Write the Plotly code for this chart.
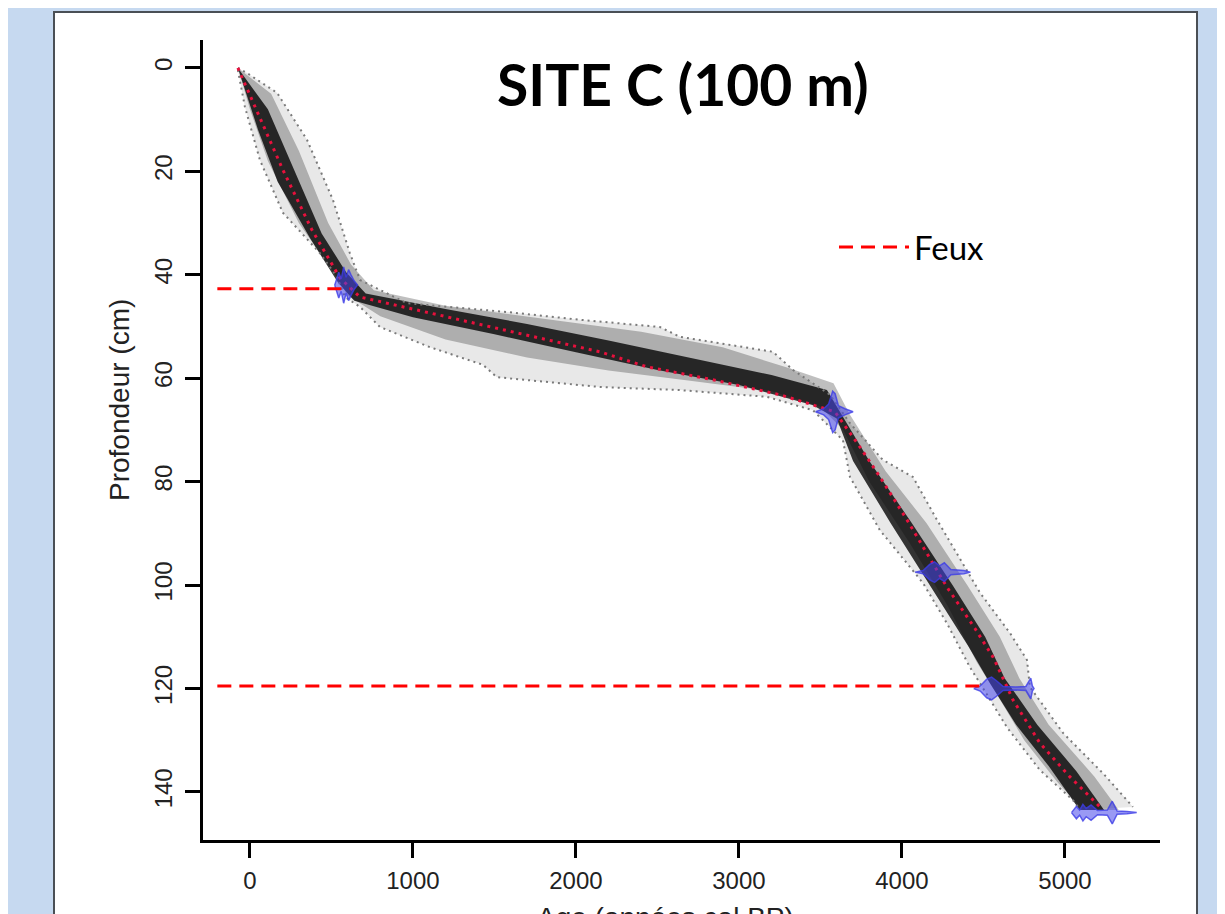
import plotly.graph_objects as go

# ---------------- data (age cal BP, depth cm) ----------------
median_age   = [-74, 104, 202, 380, 552, 675, 1166, 1577, 2147, 2436, 2840, 3252, 3497, 3589, 3638, 3742, 3865, 4031, 4276, 4450, 4560, 4681, 4847, 5031, 5215]
median_depth = [0, 12.6, 19.7, 31.3, 40.6, 44.3, 47.8, 50.7, 54.9, 57.8, 60.3, 63.2, 65.6, 66.5, 68.7, 73.3, 79.1, 87.4, 100.4, 108.5, 114, 122.2, 130.6, 137.1, 142.9]

young95_age   = [-74, -31, 61, 202, 429, 534, 583, 675, 798, 1104, 1429, 1515, 2147, 2638, 3172, 3454, 3638, 3681, 3865, 4129, 4276, 4417, 4479, 4644, 4847, 5049, 5092]
young95_depth = [0.4, 7.5, 17.8, 28, 35.8, 40.4, 44.3, 46.2, 50.1, 54, 57.4, 59.8, 61.7, 62.3, 63.6, 66.2, 72, 79.1, 89.4, 99.6, 107.4, 115.9, 119, 127.5, 135.8, 141.6, 143.5]

old95_age   = [-74, -18, 166, 350, 509, 613, 675, 963, 1577, 2025, 2515, 2638, 3209, 3331, 3558, 3681, 3883, 4067, 4215, 4479, 4663, 4767, 4785, 4988, 5233, 5399, 5417]
old95_depth = [0, 1, 4.8, 13.9, 25.5, 35.8, 41, 45.5, 47.2, 48.7, 50.1, 52, 54.9, 58.4, 63.2, 68.7, 75.8, 79.1, 87.4, 101.5, 109.3, 114.5, 119.7, 128.6, 136.4, 142.2, 142.9]

mid_young_age   = [-74, 0, 110, 300, 500, 600, 800, 1200, 1700, 2200, 2700, 3200, 3500, 3640, 3800, 4050, 4280, 4460, 4580, 4750, 4950, 5110]
mid_young_depth = [0, 8, 18, 30, 39, 44, 48, 52.5, 56, 58.5, 60.5, 62.5, 65.5, 70, 80, 92, 104, 115, 121, 130, 138, 143.5]
mid_old_age   = [-74, 130, 300, 480, 620, 760, 1200, 1800, 2400, 2900, 3300, 3580, 3680, 3900, 4150, 4400, 4600, 4720, 4900, 5180, 5330]
mid_old_depth = [0, 5, 16, 30, 38, 43, 46, 48.5, 51, 54, 58, 61, 67, 78, 88, 100, 110, 118, 127, 137, 143.5]

core_young_age   = [-74, 50, 170, 370, 540, 640, 1000, 1500, 2000, 2500, 3000, 3450, 3600, 3700, 3930, 4170, 4410, 4540, 4700, 4900, 5090]
core_young_depth = [0, 12, 22, 33, 41.5, 45, 48.2, 51.5, 55, 58.4, 61.3, 65.2, 67.8, 76, 88, 100, 112, 119, 127, 135, 143.5]
core_old_age   = [-74, 110, 250, 440, 590, 710, 1200, 1700, 2200, 2700, 3200, 3540, 3610, 3800, 4060, 4310, 4510, 4630, 4830, 5070, 5240]
core_old_depth = [0, 8, 18, 32, 39.5, 43.6, 46.6, 49.5, 52.7, 56, 59.4, 62.3, 66, 76, 88, 100, 110, 118, 127, 136, 143.5]

# calibrated dates: depth, ages, probability half-heights
date_depths  = [42.0, 66.5, 97.5, 120.0, 144.0]
date_ages    = [
    [520, 545, 560, 575, 590, 605, 620, 640, 660],
    [3470, 3520, 3550, 3575, 3590, 3610, 3650, 3700],
    [4080, 4130, 4170, 4200, 4230, 4260, 4300, 4380, 4420],
    [4440, 4480, 4520, 4550, 4580, 4620, 4700, 4760, 4790, 4800, 4810],
    [5040, 5070, 5090, 5110, 5130, 5160, 5200, 5260, 5290, 5320, 5380, 5440],
]
date_heights = [
    [0, 2.5, 1.2, 3.5, 1.5, 3.0, 2.0, 0.8, 0],
    [0, 0.6, 1.5, 4.0, 3.5, 1.2, 0.6, 0],
    [0, 0.3, 1.5, 2.0, 1.2, 1.8, 0.5, 0.3, 0],
    [0, 0.5, 1.8, 2.2, 1.5, 0.4, 0.3, 0.4, 2.0, 0.5, 0],
    [0, 1.2, 0.5, 1.6, 0.8, 1.5, 0.4, 0.5, 2.2, 0.3, 0.2, 0],
]

fire_depths    = [42.7, 119.5]
fire_age_start = [-200, -200]
fire_age_end   = [613, 4509]

x_ticks = [0, 1000, 2000, 3000, 4000, 5000]
y_ticks = [0, 20, 40, 60, 80, 100, 120, 140]

# ---------------- layout helpers (screen pixels; page body has an 8px margin) ----------------
OFF = 8
PL, PR, PT, PB = 203, 1160, 40, 840   # plot area in screen pixels
def px(xs): return (xs - PL) / (PR - PL)
def py(ys): return (PB - ys) / (PB - PT)

fig = go.Figure()

def band(ya, yd, oa, od, color):
    fig.add_trace(go.Scatter(
        x=ya + oa[::-1], y=yd + od[::-1], fill="toself", fillcolor=color,
        mode="lines", line=dict(width=0), hoverinfo="skip", showlegend=False))

band(young95_age, young95_depth, old95_age, old95_depth, "rgba(0,0,0,0.09)")
band(mid_young_age, mid_young_depth, mid_old_age, mid_old_depth, "rgba(0,0,0,0.25)")
band(core_young_age, core_young_depth, core_old_age, core_old_depth, "rgba(0,0,0,0.78)")

for a, d in [(young95_age, young95_depth), (old95_age, old95_depth)]:
    fig.add_trace(go.Scatter(x=a, y=d, mode="lines",
                             line=dict(color="#7a7a7a", width=2, dash="2px,4px"),
                             hoverinfo="skip", showlegend=False))

fig.add_trace(go.Scatter(x=median_age, y=median_depth, mode="lines",
                         line=dict(color="#e8103c", width=3, dash="3px,5px"),
                         hoverinfo="skip", showlegend=False))

for dep, ages, hs in zip(date_depths, date_ages, date_heights):
    xs = ages + ages[::-1]
    ys = [dep - h for h in hs] + [dep + h for h in hs[::-1]]
    fig.add_trace(go.Scatter(x=xs, y=ys, fill="toself",
                             fillcolor="rgba(70,70,235,0.55)", mode="lines",
                             line=dict(color="rgba(60,60,230,0.8)", width=1.5),
                             hoverinfo="skip", showlegend=False))

for i, (d, a0, a1) in enumerate(zip(fire_depths, fire_age_start, fire_age_end)):
    fig.add_trace(go.Scatter(x=[a0, a1], y=[d, d], mode="lines",
                             line=dict(color="#ff0000", width=3, dash="14px,8px"),
                             name="Feux", showlegend=(i == 0), hoverinfo="skip"))

# white panel on blue background
fig.add_shape(type="rect", xref="paper", yref="paper",
              x0=px(54), x1=px(1197), y0=py(930), y1=py(12),
              fillcolor="white", line=dict(color="#4a4f55", width=2), layer="below")

fig.add_annotation(text="<b>SITE C (100 m)</b>", xref="paper", yref="paper",
                   x=px(683), y=py(84), xanchor="center", yanchor="middle", showarrow=False,
                   font=dict(family="Lato", size=57, color="black"))
fig.add_annotation(text="Profondeur (cm)", xref="paper", yref="paper",
                   x=px(120), y=py(400), xanchor="center", yanchor="middle",
                   textangle=-90, showarrow=False,
                   font=dict(family="Liberation Sans", size=28, color="#222"))
fig.add_annotation(text="Age (années cal BP)", xref="paper", yref="paper",
                   x=px(665), y=py(918), xanchor="center", yanchor="middle", showarrow=False,
                   font=dict(family="Liberation Sans", size=28, color="#222"))

fig.update_layout(
    width=1225, height=914,
    margin=dict(l=PL - OFF, r=1225 - PR + OFF, t=PT - OFF, b=914 - PB + OFF),
    paper_bgcolor="#c6d9f0", plot_bgcolor="white",
    showlegend=True,
    legend=dict(x=px(834), y=py(247), xanchor="left", yanchor="middle",
                bgcolor="rgba(0,0,0,0)", font=dict(family="Lato", size=33, color="black"),
                itemwidth=70),
    xaxis=dict(range=[-288, 5583], tickvals=x_ticks, ticktext=[str(v) for v in x_ticks],
               showgrid=False, zeroline=False, showline=True, linecolor="black", linewidth=3,
               ticks="outside", ticklen=15, tickwidth=2.5, tickcolor="black",
               ticklabelstandoff=2,
               tickfont=dict(family="Liberation Sans", size=24, color="#222")),
    yaxis=dict(range=[149.3, -5.4], tickvals=y_ticks, ticktext=[str(v) for v in y_ticks],
               showgrid=False, zeroline=False, showline=True, linecolor="black", linewidth=3,
               ticks="outside", ticklen=15, tickwidth=2.5, tickcolor="black",
               tickangle=-90, ticklabelstandoff=3,
               tickfont=dict(family="Liberation Sans", size=24, color="#222")),
)

fig.write_html("out.html")
